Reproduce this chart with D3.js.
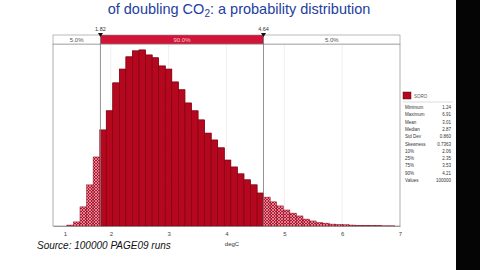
<!DOCTYPE html>
<html lang="en">
<head>
<meta charset="utf-8">
<title>Climate sensitivity distribution</title>
<script src="https://d3js.org/d3.v7.min.js"></script>
<style>
body { margin: 0; background: #fff; }
svg { display: block; font-family: "Liberation Sans", Arial, sans-serif; }
</style>
</head>
<body>
<svg width="480" height="270"></svg>
<script>
// ---- data ----
var binStart = 1.24, binEnd = 6.91;
// share of runs per bin (%), 50 bins between min and max
var freq = [0.03, 0.13, 0.61, 1.31, 2.20, 3.06, 3.67, 4.56, 5.00, 5.39,
            5.58, 5.61, 5.45, 5.36, 5.10, 5.00, 4.59, 4.34, 3.92, 3.67,
            3.38, 2.96, 2.74, 2.49, 2.10, 1.88, 1.66, 1.47, 1.31, 1.05,
            0.92, 0.77, 0.64, 0.51, 0.41, 0.32, 0.22, 0.16, 0.11, 0.09,
            0.06, 0.05, 0.04, 0.03, 0.02, 0.02, 0.01, 0.01, 0.005, 0.005];
var lo = 1.82, hi = 4.64;
var bandLabels = ["5.0%", "90.0%", "5.0%"];
var xTicks = [1, 2, 3, 4, 5, 6, 7];
var statNames = ["Minimum", "Maximum", "Mean", "Median", "Std Dev", "Skewness", "10%", "25%", "75%", "90%", "Values"];
var statValues = ["1.24", "6.91", "3.01", "2.87", "0.860", "0.7363", "2.06", "2.35", "3.53", "4.21", "100000"];
var seriesName = "SORO";

var svg = d3.select("svg");
var binW = (binEnd - binStart) / freq.length;
var bins = freq.map(function(f, i) { return {x0: binStart + i * binW, x1: binStart + (i + 1) * binW, f: f}; });

var x = d3.scaleLinear().domain([1, 7]).range([53, 400]);
var y = d3.scaleLinear().domain([0, 5.80]).range([226, 44]);

// right black edge of the video frame
svg.append("rect").attr("x", 456).attr("y", 0).attr("width", 24).attr("height", 270).attr("fill", "#050505");

// title
var t2 = svg.append("text").attr("fill", "#22409e").attr("font-size", 14.5)
  .attr("text-anchor", "middle").attr("x", 239).attr("y", 14);
t2.append("tspan").text("of doubling CO");
t2.append("tspan").attr("font-size", 10).attr("dy", 3).text("2");
t2.append("tspan").attr("dy", -3).text(": a probability distribution");

// patterns
var defs = svg.append("defs");
var pat = defs.append("pattern").attr("id", "hatch").attr("patternUnits", "userSpaceOnUse")
  .attr("width", 3).attr("height", 3);
pat.append("rect").attr("width", 3).attr("height", 3).attr("fill", "#b8142e");
pat.append("path").attr("d", "M0,0L3,3M3,0L0,3").attr("stroke", "#f2c4cc").attr("stroke-width", 0.6);
defs.append("clipPath").attr("id", "mid").append("rect")
  .attr("x", x(lo)).attr("y", 0).attr("width", x(hi) - x(lo)).attr("height", 270);

// plot frame and faint grid
svg.append("g").selectAll("line").data(xTicks.slice(1, -1)).enter().append("line")
  .attr("x1", function(d) { return x(d); }).attr("x2", function(d) { return x(d); })
  .attr("y1", 44).attr("y2", 226).attr("stroke", "#f0f0f0");
svg.append("rect").attr("x", x(1)).attr("y", 44).attr("width", x(7) - x(1)).attr("height", 182)
  .attr("fill", "none").attr("stroke", "#9a9a9a").attr("stroke-width", 0.8);

// bars: hatched everywhere, solid inside the 90% band
svg.append("g").selectAll("rect").data(bins).enter().append("rect")
  .attr("x", function(d) { return x(d.x0); }).attr("width", function(d) { return x(d.x1) - x(d.x0); })
  .attr("y", function(d) { return y(d.f); }).attr("height", function(d) { return y(0) - y(d.f); })
  .attr("fill", "url(#hatch)").attr("stroke", "#8c0a1e").attr("stroke-width", 0.5);
svg.append("g").attr("clip-path", "url(#mid)").selectAll("rect").data(bins).enter().append("rect")
  .attr("x", function(d) { return x(d.x0); }).attr("width", function(d) { return x(d.x1) - x(d.x0); })
  .attr("y", function(d) { return y(d.f); }).attr("height", function(d) { return y(0) - y(d.f); })
  .attr("fill", "#b5081f").attr("stroke", "#7c0615").attr("stroke-width", 0.6);

// band strip on top
var edges = [1, lo, hi, 7];
var strip = svg.append("g");
strip.selectAll("rect").data(bandLabels).enter().append("rect")
  .attr("x", function(d, i) { return x(edges[i]); }).attr("y", 35)
  .attr("width", function(d, i) { return x(edges[i + 1]) - x(edges[i]); }).attr("height", 9)
  .attr("fill", function(d, i) { return i == 1 ? "#d11438" : "#fff"; })
  .attr("stroke", "#8a8a8a").attr("stroke-width", 0.6);
strip.selectAll("text").data(bandLabels).enter().append("text")
  .attr("x", function(d, i) { return (x(edges[i]) + x(edges[i + 1])) / 2; }).attr("y", 42)
  .attr("text-anchor", "middle").attr("font-size", 6)
  .attr("fill", function(d, i) { return i == 1 ? "#f6c9d2" : "#555"; }).text(function(d) { return d; });

// delimiter lines and markers
var marks = svg.append("g");
marks.selectAll("line").data([lo, hi]).enter().append("line")
  .attr("x1", function(d) { return x(d); }).attr("x2", function(d) { return x(d); })
  .attr("y1", 35).attr("y2", 226).attr("stroke", "#777").attr("stroke-width", 0.8);
marks.selectAll("path").data([lo, hi]).enter().append("path")
  .attr("d", function(d) { var px = x(d); return "M" + (px - 2.5) + ",33L" + (px + 2.5) + ",33L" + px + ",37Z"; })
  .attr("fill", "#111");
marks.selectAll("text").data([lo, hi]).enter().append("text")
  .attr("x", function(d) { return x(d); }).attr("y", 31).attr("text-anchor", "middle")
  .attr("font-size", 5.5).attr("fill", "#333").text(function(d) { return d.toFixed(2); });

// x axis
var axis = svg.append("g").attr("transform", "translate(0,226)")
  .call(d3.axisBottom(x).tickValues(xTicks).tickSize(0).tickPadding(6).tickFormat(d3.format("d")));
axis.select(".domain").attr("stroke", "#888").attr("stroke-width", 0.8);
axis.selectAll("text").attr("font-size", 6).attr("fill", "#444")
  .attr("font-family", "\"Liberation Sans\", Arial, sans-serif")
  .attr("dx", function(d) { return d === 1 ? 12 : 0; });
svg.append("text").attr("x", 232).attr("y", 246).attr("text-anchor", "middle")
  .attr("font-size", 6).attr("fill", "#333").text("degC");

svg.append("text").attr("x", 37).attr("y", 249).attr("font-size", 10).attr("font-style", "italic")
  .attr("fill", "#111").text("Source: 100000 PAGE09 runs");

// legend + statistics
var leg = svg.append("g");
leg.append("rect").attr("x", 403).attr("y", 92).attr("width", 8).attr("height", 7)
  .attr("fill", "#b3071f").attr("stroke", "#6a0512").attr("stroke-width", 0.5);
leg.append("text").attr("x", 414).attr("y", 97.5).attr("font-size", 4.5).attr("fill", "#555").text(seriesName);
leg.append("line").attr("x1", 403).attr("x2", 453).attr("y1", 102).attr("y2", 102).attr("stroke", "#bbb").attr("stroke-width", 0.5);
var rows = leg.selectAll("g.row").data(statNames).enter().append("g").attr("class", "row")
  .attr("transform", function(d, i) { return "translate(0," + (109 + i * 7.3) + ")"; });
rows.append("text").attr("x", 405).attr("font-size", 4.5).attr("fill", "#333").text(function(d) { return d; });
rows.append("text").attr("x", 451).attr("text-anchor", "end").attr("font-size", 4.5).attr("fill", "#333")
  .text(function(d, i) { return statValues[i]; });
</script>
</body>
</html>
